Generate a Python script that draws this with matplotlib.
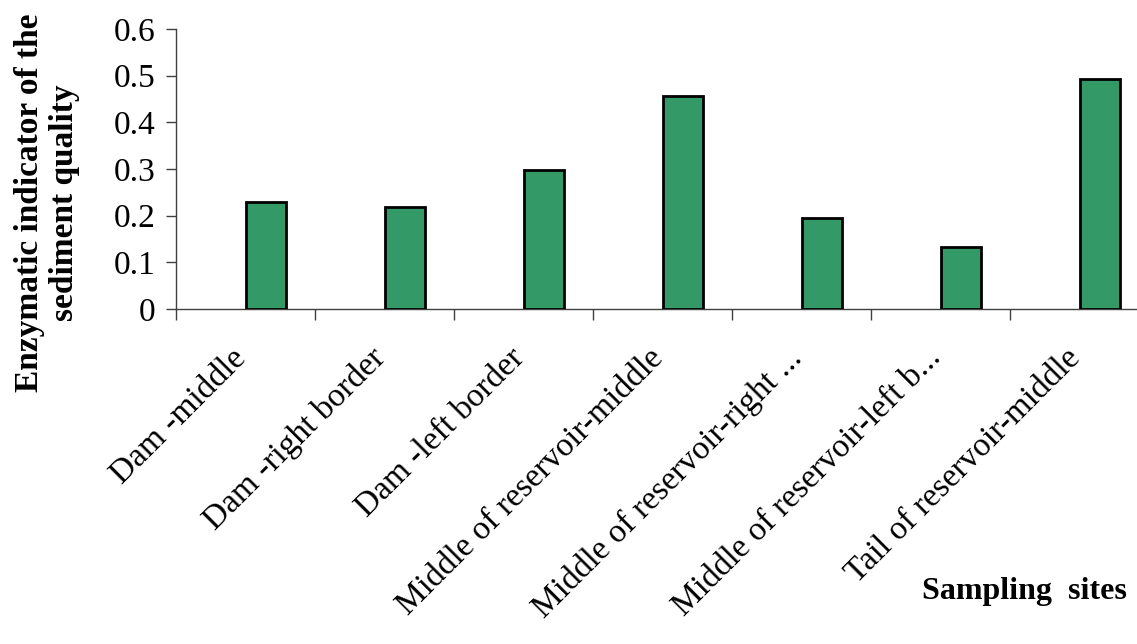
import matplotlib.pyplot as plt
import matplotlib.transforms as mtransforms
import numpy as np

sites = ["Dam -middle", "Dam -right border", "Dam -left border",
         "Middle of reservoir-middle", "Middle of reservoir-right ...",
         "Middle of reservoir-left b...", "Tail of reservoir-middle"]
values = [0.23, 0.218, 0.297, 0.457, 0.194, 0.132, 0.493]

plt.rcParams['font.family'] = ['Liberation Serif', 'DejaVu Serif']

fig = plt.figure(figsize=(11.37, 6.44), dpi=100)
ax = fig.add_axes([176 / 1137, 335 / 644, 973 / 1137, 280 / 644])

xpos = np.arange(len(sites))
# bars start at the category centre, like the Excel original
ax.bar(xpos, values, width=0.29, align='edge', color='#339966',
       edgecolor='black', linewidth=2, zorder=3)

ax.set_xlim(-0.5, len(sites) - 0.5)
ax.set_ylim(0, 0.6)
ax.set_yticks(np.arange(0, 0.61, 0.1))
ax.set_yticklabels(["0", "0.1", "0.2", "0.3", "0.4", "0.5", "0.6"])

ax.set_xticks(np.arange(-0.5, len(sites)), minor=False)
ax.set_xticklabels([])
ax.set_xticks(xpos, minor=True)
ax.set_xticklabels(sites, minor=True, rotation=45, ha='right', va='center',
                   rotation_mode='anchor', fontsize=24)
ax.tick_params(axis='x', which='minor', length=0, pad=32)
ax.tick_params(axis='x', which='major', length=8, width=1, color='#404040', direction='out')
ax.tick_params(axis='y', length=7, width=1, color='#404040', direction='out',
               labelsize=24, pad=8)

shift = mtransforms.ScaledTranslation(-3 / 72, 0, fig.dpi_scale_trans)
for lbl in ax.get_xticklabels(minor=True):
    lbl.set_transform(lbl.get_transform() + shift)

for s in ['top', 'right']:
    ax.spines[s].set_visible(False)
for s in ['left', 'bottom']:
    ax.spines[s].set_color('#404040')
    ax.spines[s].set_linewidth(1)

fig.text(47 / 1137, 1 - 203 / 644, "Enzymatic indicator of the\nsediment quality",
         rotation=90, ha='center', va='center', multialignment='center',
         fontsize=24, fontweight='bold')
fig.text(1024 / 1137, 1 - 591 / 644, "Sampling  sites", ha='center', va='center',
         fontsize=23, fontweight='bold')

fig.savefig("out.png", dpi=100)
